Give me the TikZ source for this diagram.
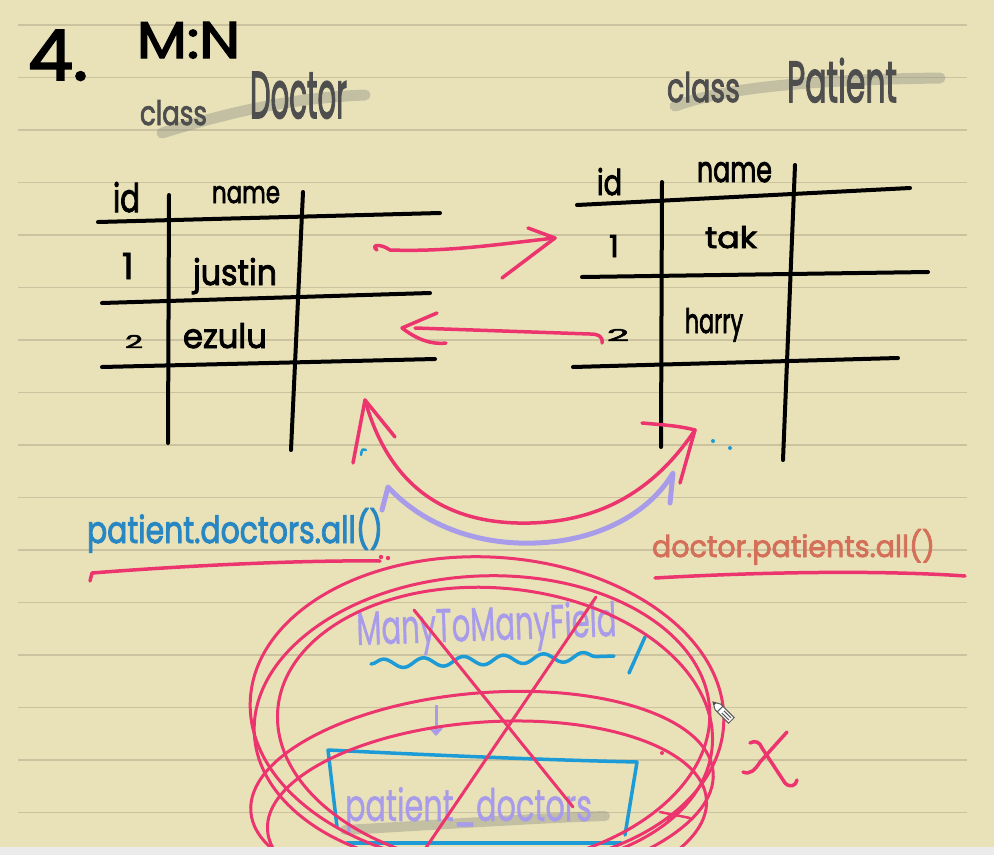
\documentclass[tikz,border=0pt]{standalone}
\usepackage{fontspec}
\setmainfont{Poppins}
\newfontfamily\penfont[FakeBold=2.6]{Poppins}
\newfontfamily\penthin[FakeBold=1]{Poppins}
\usepackage{graphicx}
\usetikzlibrary{arrows.meta,decorations.pathmorphing}
\definecolor{paper}{RGB}{233,226,184}
\definecolor{rule}{RGB}{203,195,160}
\definecolor{hpink}{RGB}{236,52,110}
\definecolor{lav}{RGB}{168,156,234}
\definecolor{btext}{RGB}{40,135,195}
\definecolor{bline}{RGB}{28,155,215}
\definecolor{salmon}{RGB}{212,112,90}
\definecolor{gtext}{RGB}{78,78,78}
\definecolor{hlgrey}{RGB}{140,140,130}
\definecolor{band}{RGB}{235,235,235}
\newcommand{\hw}[3]{\resizebox{#1pt}{#2pt}{#3}}
\newcommand{\hh}[2]{\resizebox{!}{#1pt}{#2}}
\begin{document}
\begin{tikzpicture}[x=1pt,y=-1pt,
  txt/.style={inner sep=0pt, outer sep=0pt, anchor=base west, font=\penfont},
  thintxt/.style={inner sep=0pt, outer sep=0pt, anchor=base west, font=\penthin},
  grid/.style={black, line width=4pt, line cap=round},
  pinkpen/.style={hpink, line width=3.5pt, line cap=round, line join=round},
  lavpen/.style={lav, line width=5pt, line cap=round, line join=round},
  bluepen/.style={bline, line width=3.5pt, line cap=round, line join=round},
  hilite/.style={hlgrey, opacity=0.4, line width=11pt, line cap=round},
  ruled/.style={rule, line width=1.6pt},
  loop/.style={hpink, line width=3pt}]
\useasboundingbox (0,0) rectangle (994,855);
\fill[paper] (0,0) rectangle (994,855);
\foreach \k in {0,...,15} { \draw[ruled] (18,25+52.5*\k) -- (967,25+52.5*\k); }

% highlights
\draw[hilite] (162,133) .. controls (230,112) and (290,98) .. (365,95);
\draw[hilite] (675,106) .. controls (720,90) and (790,80) .. (940,78);

% titles
\node[txt] (four) at (28,80) {\hw{60}{50}{4.}};
\node[txt] (mn) at (137,58) {\hw{103}{36}{M:N}};
\node[txt, text=gtext] (dclass) at (140,125) {\hw{67}{25}{class}};
\node[txt, text=gtext] (dname) at (250,118) {\hw{97}{46}{Doctor}};
\node[txt, text=gtext] (pclass) at (667,102) {\hw{73}{30}{class}};
\node[txt, text=gtext] (pname) at (787,102) {\hw{110}{44}{Patient}};

% left table
\coordinate (lh1a) at (98,222); \coordinate (lh1b) at (440,213);
\coordinate (lh2a) at (102,303); \coordinate (lh2b) at (430,293);
\coordinate (lh3a) at (102,367); \coordinate (lh3b) at (435,359);
\coordinate (lv1a) at (169,195); \coordinate (lv1b) at (168,443);
\coordinate (lv2a) at (303,192); \coordinate (lv2b) at (291,450);
\draw[grid] (lh1a) -- (lh1b);
\draw[grid] (lh2a) -- (lh2b);
\draw[grid] (lh3a) -- (lh3b);
\draw[grid] (lv1a) -- (lv1b);
\draw[grid] (lv2a) -- (lv2b);
\node[txt] (lid) at (113,212) {\hw{27}{30}{id}};
\node[txt] (lnm) at (212,203) {\hw{68}{17}{name}};
\node[txt] (l1) at (122,279) {\hh{26}{1}};
\node[txt] (ljustin) at (193,285) {\hw{84}{27}{justin}};
\node[txt] (l2) at (125,348) {\hw{18}{13}{2}};
\node[txt] (lezulu) at (183,348) {\hw{84}{25}{ezulu}};

% right table
\coordinate (rh1a) at (577,205); \coordinate (rh1b) at (910,188);
\coordinate (rh2a) at (582,277); \coordinate (rh2b) at (928,272);
\coordinate (rh3a) at (573,367); \coordinate (rh3b) at (898,358);
\coordinate (rv1a) at (662,182); \coordinate (rv1b) at (661,447);
\coordinate (rv2a) at (795,165); \coordinate (rv2b) at (783,460);
\draw[grid] (rh1a) -- (rh1b);
\draw[grid] (rh2a) -- (rh2b);
\draw[grid] (rh3a) -- (rh3b);
\draw[grid] (rv1a) -- (rv1b);
\draw[grid] (rv2a) -- (rv2b);
\node[txt] (rid) at (597,195) {\hw{25}{27}{id}};
\node[txt] (rnm) at (697,182) {\hw{75}{20}{name}};
\node[txt] (r1) at (609,257) {\hh{22}{1}};
\node[txt] (rtak) at (705,248) {\hw{52}{22}{tak}};
\node[txt] (r2) at (607,341) {\hw{22}{12}{2}};
\node[txt] (rharry) at (685,333) {\hw{58}{25}{harry}};
\fill[bline] (713,441) circle (2pt) (730,448) circle (2pt);

% straight arrows
\coordinate (a1s) at (377,250); \coordinate (a1t) at (555,238);
\coordinate (a1u) at (528,228); \coordinate (a1l) at (502,278);
\draw[pinkpen] (a1s) .. controls (370,245) and (380,243) .. (390,250)
  .. controls (450,252) and (500,244) .. (a1t);
\draw[pinkpen] (a1u) -- (a1t) -- (a1l);
\coordinate (a2s) at (602,343); \coordinate (a2t) at (402,328);
\coordinate (a2u) at (437,313); \coordinate (a2l) at (446,343);
\draw[pinkpen] (a2s) .. controls (603,336) and (598,334) .. (590,334)
  -- (415,328);
\draw[pinkpen] (a2u) -- (a2t) .. controls (415,338) and (430,345) .. (a2l);

% big U arrow
\coordinate (ul) at (365,400); \coordinate (ur) at (695,430);
\coordinate (ub) at (530,523);
\draw[pinkpen] (ul) .. controls (390,490) and (450,525) .. (ub)
  .. controls (610,521) and (660,482) .. (ur);
\draw[pinkpen] (353,463) -- (ul) -- (395,437);
\draw[pinkpen] (642,423) .. controls (665,425) and (680,426) .. (ur) -- (680,483);
\draw[bline, line width=2.5pt, line cap=round] (361,455) .. controls (362,449) .. (366,450);

% lavender arc
\coordinate (vl) at (388,487); \coordinate (vr) at (673,473);
\draw[lavpen] (382,510) -- (vl) .. controls (425,527) and (480,545) .. (535,543)
  .. controls (600,541) and (650,512) .. (vr) -- (670,503);

% method labels
\node[txt, text=btext] (pd) at (87,543) {\hw{296}{35}{patient.doctors.all()}};
\fill[hpink] (381,557) circle (2.2pt) (388,558) circle (2.2pt);
\node[txt, text=salmon] (dp) at (652,557) {\hw{283}{28}{doctor.patients.all()}};
\draw[pinkpen] (90,581) -- (92,573) .. controls (180,566) and (300,560) .. (380,561);
\draw[pinkpen] (655,578) .. controls (760,572) and (880,570) .. (965,576);

% ManyToManyField
\node[thintxt, text=lav, rotate=2] (mtm) at (357,645) {\hw{260}{36}{ManyToManyField}};
\draw[bluepen, decorate, decoration={snake, segment length=40pt, amplitude=4.5pt}] (371,664) -- (614,656);
\draw[bluepen] (629,673) -- (645,637);
\draw[lav, line width=3pt, -{Straight Barb[length=6pt,width=11pt]}] (436,705) -- (436,736);

% blue box
\coordinate (bb1) at (328,750); \coordinate (bb2) at (637,762);
\coordinate (bb3) at (625,835); \coordinate (bb4) at (337,827);
\draw[bluepen] (bb4) -- (bb1) .. controls (450,756) and (550,760) .. (bb2) -- (bb3);
\draw[bluepen] (347,843) -- (621,843);
\draw[hilite, line width=10pt] (345,830) .. controls (450,824) and (540,818) .. (605,816);
\node[thintxt, text=lav] (pdt) at (345,821) {\hw{247}{34}{patient\_doctors}};

% crossing-out
\begin{scope}
\clip (0,0) rectangle (994,847);
\draw[loop, rotate around={-3:(487,712)}] (487,712) ellipse [x radius=237, y radius=155];
\draw[loop, rotate around={3:(482,722)}] (482,722) ellipse [x radius=228, y radius=146];
\draw[loop, rotate around={-5:(495,728)}] (495,728) ellipse [x radius=218, y radius=140];
\draw[loop, rotate around={5:(482,792)}] (482,792) ellipse [x radius=232, y radius=99];
\draw[loop, rotate around={4:(487,815)}] (487,815) ellipse [x radius=220, y radius=93];
\coordinate (x1a) at (414,610); \coordinate (x1b) at (573,807);
\coordinate (x2a) at (596,597); \coordinate (x2b) at (421,855);
\draw[loop, line cap=round] (x1a) -- (x1b);
\draw[loop, line cap=round] (x2a) -- (x2b);
\draw[pinkpen, line width=2.5pt] (668,820) -- (684,804);
\draw[pinkpen, line width=2.5pt] (660,812) -- (690,818);
\end{scope}
\fill[hpink] (662,753) circle (2pt);

% X, mark
\draw[pinkpen] (743,772) .. controls (750,775) and (755,770) .. (760,762) -- (787,732);
\draw[pinkpen] (750,743) .. controls (755,740) and (760,742) .. (762,748) -- (785,783)
  .. controls (790,788) and (796,786) .. (797,780);

% pencil cursor
\begin{scope}[shift={(713,702)}, rotate=-45]
  \draw[gray!70!black, fill=white, line width=1pt] (0,0) -- (7,-4) -- (26,-4) -- (26,4) -- (7,4) -- cycle;
  \draw[gray!70!black, line width=1pt] (10,-4) -- (10,4) (14,-1.5) -- (24,-1.5) (14,1.5) -- (24,1.5);
  \fill[gray!60!black] (0,0) -- (3,-1.7) -- (3,1.7) -- cycle;
\end{scope}

% bottom band
\fill[band] (0,847) rectangle (994,855);
\end{tikzpicture}
\end{document}
